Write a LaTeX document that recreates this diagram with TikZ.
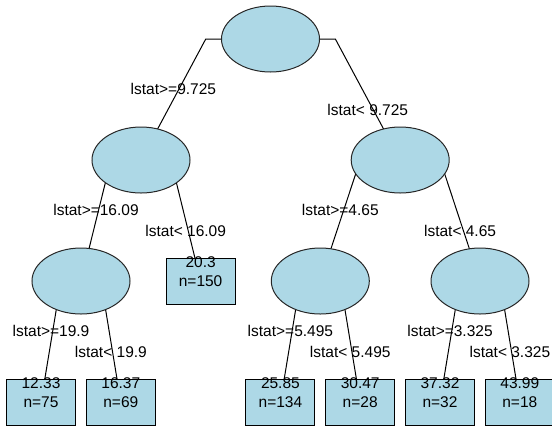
\documentclass[tikz,border=0pt]{standalone}
\usepackage{fontspec}
\setmainfont{Liberation Sans}
\usetikzlibrary{shapes.geometric,backgrounds,calc}
\definecolor{nodeblue}{HTML}{ADD8E6}
\newcommand{\treebranch}[4]{\draw[branch] let \p1=(#1.center), \p2=(#2.center) in (\p1) -- ({(\x1+\x2)/2},\y1) -- node[lbl,#4] {#3} (\p2);}

\begin{document}
\begin{tikzpicture}[
    x=1bp, y=-1bp,
    font=\fontsize{15.5bp}{19bp}\selectfont,
    line width=1bp,
    split/.style={ellipse, draw=black!85, fill=nodeblue, minimum width=98bp, minimum height=66bp, inner sep=0pt},
    leaf/.style={rectangle, draw=black, fill=nodeblue, minimum width=69bp, minimum height=46bp, inner sep=0pt},
    leaftext/.style={align=center, yshift=9bp, inner sep=0pt},
    branch/.style={draw=black, line width=1bp},
    lbl/.style={inner sep=4bp}]
    \useasboundingbox (0,0) rectangle (552,425);
    % NODES
    % root
    \node[split] (root) at (270.5,39) {};
    % first split
    \node[split] (A) at (141,160) {};
    \node[split] (B) at (400.2,160) {};
    % second split
    \node[split] (AA) at (81,281) {};
    \node[leaf, label={[leaftext]center:{20.3\\n=150}}] (AB) at (200.6,281) {};
    \node[split] (BA) at (320.3,281) {};
    \node[split] (BB) at (480,281) {};
    % leaves
    \node[leaf, label={[leaftext]center:{12.33\\n=75}}] (AAA) at (41,402) {};
    \node[leaf, label={[leaftext]center:{16.37\\n=69}}] (AAB) at (120.8,402) {};
    \node[leaf, label={[leaftext]center:{25.85\\n=134}}] (BAA) at (280.4,402) {};
    \node[leaf, label={[leaftext]center:{30.47\\n=28}}] (BAB) at (360.2,402) {};
    \node[leaf, label={[leaftext]center:{37.32\\n=32}}] (BBA) at (440,402) {};
    \node[leaf, label={[leaftext]center:{43.99\\n=18}}] (BBB) at (519.8,402) {};

    % BRANCHES
    \begin{pgfonlayer}{background}
    \treebranch{root}{A}{lstat>=9.725}{above}
    \treebranch{root}{B}{lstat< 9.725}{below}
    \treebranch{A}{AA}{lstat>=16.09}{above}
    \treebranch{A}{AB}{lstat< 16.09}{below}
    \treebranch{B}{BA}{lstat>=4.65}{above}
    \treebranch{B}{BB}{lstat< 4.65}{below}
    \treebranch{AA}{AAA}{lstat>=19.9}{above}
    \treebranch{AA}{AAB}{lstat< 19.9}{below}
    \treebranch{BA}{BAA}{lstat>=5.495}{above}
    \treebranch{BA}{BAB}{lstat< 5.495}{below}
    \treebranch{BB}{BBA}{lstat>=3.325}{above}
    \treebranch{BB}{BBB}{lstat< 3.325}{below}
    \end{pgfonlayer}
\end{tikzpicture}
\end{document}
